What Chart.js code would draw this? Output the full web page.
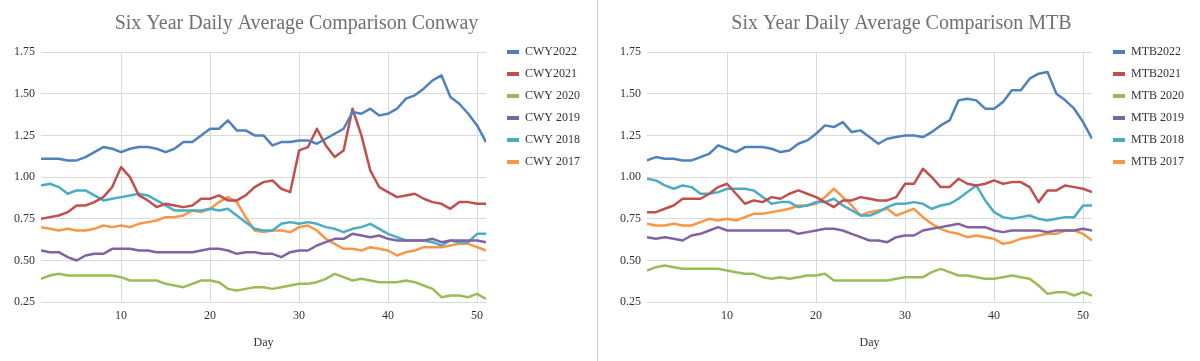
<!DOCTYPE html>
<html>
<head>
<meta charset="utf-8">
<script src="https://cdn.jsdelivr.net/npm/chart.js@4.4.1/dist/chart.umd.min.js"></script>
<style>
  body { margin: 0; background: #fff; width: 1200px; height: 361px; position: relative; overflow: hidden; }
  .panel { position: absolute; top: 0; width: 594px; height: 361px; }
  #conwayPanel { left: 0; }
  #mtbPanel { left: 606px; }
  .divider { position: absolute; left: 597px; top: 0; width: 1px; height: 361px; background: #c8c8c8; }
</style>
</head>
<body>
<div class="panel" id="conwayPanel"><canvas id="conwayChart" width="594" height="361"></canvas></div>
<div class="divider"></div>
<div class="panel" id="mtbPanel"><canvas id="mtbChart" width="594" height="361"></canvas></div>
<script>
const days = [1, 2, 3, 4, 5, 6, 7, 8, 9, 10, 11, 12, 13, 14, 15, 16, 17, 18, 19, 20,
    21, 22, 23, 24, 25, 26, 27, 28, 29, 30, 31, 32, 33, 34, 35, 36, 37, 38, 39, 40,
    41, 42, 43, 44, 45, 46, 47, 48, 49, 50, 51];
const xTicks = [10, 20, 30, 40, 50];
const yTicks = [0.25, 0.50, 0.75, 1.00, 1.25, 1.50, 1.75];

// Conway daily averages
const cwy2022 = [1.11, 1.11, 1.11, 1.10, 1.10, 1.12, 1.15, 1.18, 1.17, 1.15, 1.17, 1.18, 1.18, 1.17, 1.15, 1.17, 1.21, 1.21, 1.25, 1.29,
    1.29, 1.34, 1.28, 1.28, 1.25, 1.25, 1.19, 1.21, 1.21, 1.22, 1.22, 1.20, 1.23, 1.26, 1.29, 1.39, 1.38, 1.41, 1.37, 1.38,
    1.41, 1.47, 1.49, 1.53, 1.58, 1.61, 1.48, 1.44, 1.38, 1.31, 1.21];
const cwy2021 = [0.75, 0.76, 0.77, 0.79, 0.83, 0.83, 0.85, 0.88, 0.94, 1.06, 1.00, 0.89, 0.86, 0.82, 0.84, 0.83, 0.82, 0.83, 0.87, 0.87,
    0.89, 0.86, 0.86, 0.89, 0.94, 0.97, 0.98, 0.93, 0.91, 1.16, 1.18, 1.29, 1.19, 1.12, 1.16, 1.41, 1.25, 1.04, 0.94, 0.91,
    0.88, 0.89, 0.90, 0.87, 0.85, 0.84, 0.81, 0.85, 0.85, 0.84, 0.84];
const cwy2020 = [0.39, 0.41, 0.42, 0.41, 0.41, 0.41, 0.41, 0.41, 0.41, 0.40, 0.38, 0.38, 0.38, 0.38, 0.36, 0.35, 0.34, 0.36, 0.38, 0.38,
    0.37, 0.33, 0.32, 0.33, 0.34, 0.34, 0.33, 0.34, 0.35, 0.36, 0.36, 0.37, 0.39, 0.42, 0.40, 0.38, 0.39, 0.38, 0.37, 0.37,
    0.37, 0.38, 0.37, 0.35, 0.33, 0.28, 0.29, 0.29, 0.28, 0.30, 0.27];
const cwy2019 = [0.56, 0.55, 0.55, 0.52, 0.50, 0.53, 0.54, 0.54, 0.57, 0.57, 0.57, 0.56, 0.56, 0.55, 0.55, 0.55, 0.55, 0.55, 0.56, 0.57,
    0.57, 0.56, 0.54, 0.55, 0.55, 0.54, 0.54, 0.52, 0.55, 0.56, 0.56, 0.59, 0.61, 0.63, 0.63, 0.66, 0.65, 0.64, 0.65, 0.63,
    0.62, 0.62, 0.62, 0.62, 0.63, 0.61, 0.62, 0.62, 0.62, 0.62, 0.61];
const cwy2018 = [0.95, 0.96, 0.94, 0.90, 0.92, 0.92, 0.89, 0.86, 0.87, 0.88, 0.89, 0.90, 0.89, 0.86, 0.83, 0.80, 0.80, 0.80, 0.80, 0.81,
    0.80, 0.81, 0.77, 0.73, 0.69, 0.68, 0.68, 0.72, 0.73, 0.72, 0.73, 0.72, 0.70, 0.69, 0.67, 0.69, 0.70, 0.72, 0.69, 0.66,
    0.64, 0.62, 0.62, 0.62, 0.61, 0.59, 0.62, 0.61, 0.61, 0.66, 0.66];
const cwy2017 = [0.70, 0.69, 0.68, 0.69, 0.68, 0.68, 0.69, 0.71, 0.70, 0.71, 0.70, 0.72, 0.73, 0.74, 0.76, 0.76, 0.77, 0.80, 0.79, 0.81,
    0.85, 0.88, 0.85, 0.76, 0.68, 0.67, 0.68, 0.68, 0.67, 0.70, 0.71, 0.68, 0.63, 0.60, 0.57, 0.57, 0.56, 0.58, 0.57, 0.56,
    0.53, 0.55, 0.56, 0.58, 0.58, 0.58, 0.59, 0.60, 0.60, 0.58, 0.56];

// MTB daily averages
const mtb2022 = [1.10, 1.12, 1.11, 1.11, 1.10, 1.10, 1.12, 1.14, 1.19, 1.17, 1.15, 1.18, 1.18, 1.18, 1.17, 1.15, 1.16, 1.20, 1.22, 1.26,
    1.31, 1.30, 1.33, 1.27, 1.28, 1.24, 1.20, 1.23, 1.24, 1.25, 1.25, 1.24, 1.27, 1.31, 1.34, 1.46, 1.47, 1.46, 1.41, 1.41,
    1.45, 1.52, 1.52, 1.59, 1.62, 1.63, 1.50, 1.46, 1.41, 1.33, 1.23];
const mtb2021 = [0.79, 0.79, 0.81, 0.83, 0.87, 0.87, 0.87, 0.90, 0.94, 0.96, 0.90, 0.84, 0.86, 0.85, 0.88, 0.87, 0.90, 0.92, 0.90, 0.88,
    0.85, 0.82, 0.86, 0.86, 0.88, 0.87, 0.86, 0.86, 0.88, 0.96, 0.96, 1.05, 1.00, 0.94, 0.94, 0.99, 0.96, 0.95, 0.96, 0.98,
    0.96, 0.97, 0.97, 0.94, 0.85, 0.92, 0.92, 0.95, 0.94, 0.93, 0.91];
const mtb2020 = [0.44, 0.46, 0.47, 0.46, 0.45, 0.45, 0.45, 0.45, 0.45, 0.44, 0.43, 0.42, 0.42, 0.40, 0.39, 0.40, 0.39, 0.40, 0.41, 0.41,
    0.42, 0.38, 0.38, 0.38, 0.38, 0.38, 0.38, 0.38, 0.39, 0.40, 0.40, 0.40, 0.43, 0.45, 0.43, 0.41, 0.41, 0.40, 0.39, 0.39,
    0.40, 0.41, 0.40, 0.39, 0.35, 0.30, 0.31, 0.31, 0.29, 0.31, 0.29];
const mtb2019 = [0.64, 0.63, 0.64, 0.63, 0.62, 0.65, 0.66, 0.68, 0.70, 0.68, 0.68, 0.68, 0.68, 0.68, 0.68, 0.68, 0.68, 0.66, 0.67, 0.68,
    0.69, 0.69, 0.68, 0.66, 0.64, 0.62, 0.62, 0.61, 0.64, 0.65, 0.65, 0.68, 0.69, 0.70, 0.71, 0.72, 0.70, 0.70, 0.70, 0.68,
    0.67, 0.68, 0.68, 0.68, 0.68, 0.67, 0.68, 0.68, 0.68, 0.69, 0.68];
const mtb2018 = [0.99, 0.98, 0.95, 0.93, 0.95, 0.94, 0.90, 0.90, 0.91, 0.93, 0.93, 0.93, 0.92, 0.88, 0.84, 0.85, 0.85, 0.82, 0.83, 0.85,
    0.85, 0.87, 0.83, 0.80, 0.77, 0.77, 0.79, 0.82, 0.84, 0.84, 0.85, 0.84, 0.81, 0.83, 0.84, 0.87, 0.91, 0.95, 0.86, 0.79,
    0.76, 0.75, 0.76, 0.77, 0.75, 0.74, 0.75, 0.76, 0.76, 0.83, 0.83];
const mtb2017 = [0.72, 0.71, 0.71, 0.72, 0.71, 0.71, 0.73, 0.75, 0.74, 0.75, 0.74, 0.76, 0.78, 0.78, 0.79, 0.80, 0.81, 0.83, 0.83, 0.84,
    0.88, 0.93, 0.88, 0.83, 0.77, 0.79, 0.80, 0.81, 0.77, 0.79, 0.81, 0.76, 0.72, 0.69, 0.67, 0.66, 0.64, 0.65, 0.64, 0.63,
    0.60, 0.61, 0.63, 0.64, 0.65, 0.66, 0.66, 0.68, 0.68, 0.66, 0.62];

const conwayLabels = ['CWY2022', 'CWY2021', 'CWY 2020', 'CWY 2019', 'CWY 2018', 'CWY 2017'];
const mtbLabels = ['MTB2022', 'MTB2021', 'MTB 2020', 'MTB 2019', 'MTB 2018', 'MTB 2017'];
const seriesColors = ['#4f81bd', '#c0504d', '#9bbb59', '#8064a2', '#4bacc6', '#f79646'];

const serif = '"Liberation Serif", "Times New Roman", serif';

// push the legend a bit further right of the plot, like the original
const legendGap = {
    id: 'legendGap',
    afterLayout(chart) {
        chart.legend.left += 11;
        chart.legend.right += 11;
    }
};

function buildChart(canvasId, title, labels, series, padRight) {
    const datasets = series.map((values, i) => ({
        label: labels[i],
        data: values,
        borderColor: seriesColors[i],
        backgroundColor: seriesColors[i],
        borderWidth: 2.5,
        borderJoinStyle: 'round',
        pointRadius: 0,
        tension: 0,
        fill: false
    }));

    return new Chart(document.getElementById(canvasId), {
        type: 'line',
        data: { labels: days, datasets: datasets },
        plugins: [legendGap],
        options: {
            responsive: false,
            animation: false,
            layout: { padding: { left: 14, right: padRight, top: 0, bottom: 0 } },
            plugins: {
                title: {
                    display: true,
                    text: title,
                    color: '#707070',
                    font: { family: serif, size: 20, weight: 'normal' },
                    padding: { top: 12, bottom: 16 }
                },
                legend: {
                    position: 'right',
                    align: 'start',
                    title: { display: true, text: '', font: { size: 10 }, padding: { top: 24, bottom: 0 } },
                    labels: {
                        boxWidth: 12,
                        boxHeight: 4,
                        padding: 10,
                        color: '#333',
                        font: { family: serif, size: 12 },
                        generateLabels: chart => Chart.defaults.plugins.legend.labels.generateLabels(chart)
                            .map(item => ({ ...item, lineWidth: 0 }))
                    }
                },
                tooltip: { enabled: false }
            },
            scales: {
                x: {
                    type: 'linear',
                    min: days[0],
                    max: days[days.length - 1],
                    border: { display: false },
                    grid: { color: '#d9d9d9', drawTicks: false },
                    afterBuildTicks: scale => { scale.ticks = xTicks.map(v => ({ value: v })); },
                    ticks: {
                        padding: 6,
                        color: '#333',
                        font: { family: serif, size: 12 }
                    },
                    title: {
                        display: true,
                        text: 'Day',
                        color: '#333',
                        font: { family: serif, size: 12 },
                        padding: { top: 7, bottom: 11 }
                    }
                },
                y: {
                    min: yTicks[0],
                    max: yTicks[yTicks.length - 1],
                    border: { display: false },
                    grid: { color: '#d9d9d9', drawTicks: false },
                    afterBuildTicks: scale => { scale.ticks = yTicks.map(v => ({ value: v })); },
                    afterFit: scale => { scale.width = 27; },
                    ticks: {
                        padding: 6,
                        color: '#333',
                        font: { family: serif, size: 12 },
                        callback: value => value.toFixed(2)
                    }
                }
            }
        }
    });
}

buildChart('conwayChart', 'Six Year Daily Average Comparison Conway', conwayLabels,
    [cwy2022, cwy2021, cwy2020, cwy2019, cwy2018, cwy2017], 15);
buildChart('mtbChart', 'Six Year Daily Average Comparison MTB', mtbLabels,
    [mtb2022, mtb2021, mtb2020, mtb2019, mtb2018, mtb2017], 17);
</script>
</body>
</html>
